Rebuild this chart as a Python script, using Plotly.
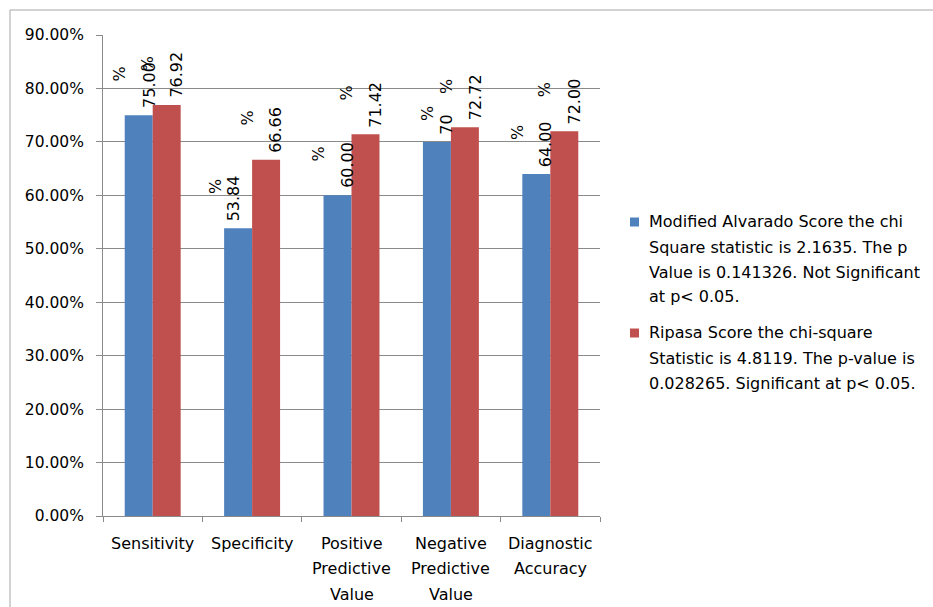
import plotly.graph_objects as go

# Diagnostic performance of the two appendicitis scores (percent)
categories = ["Sensitivity", "Specificity", "Positive Predictive Value",
              "Negative Predictive Value", "Diagnostic Accuracy"]
category_lines = [["Sensitivity"], ["Specificity"], ["Positive", "Predictive", "Value"],
                  ["Negative", "Predictive", "Value"], ["Diagnostic", "Accuracy"]]
alvarado_pct = ["75.00", "53.84", "60.00", "70", "64.00"]
ripasa_pct = ["76.92", "66.66", "71.42", "72.72", "72.00"]

alvarado_legend = ["Modified Alvarado Score the chi", "Square statistic is 2.1635. The p",
                   "Value is 0.141326. Not Significant", "at p&lt; 0.05."]
ripasa_legend = ["Ripasa Score the chi-square", "Statistic is 4.8119. The p-value is",
                 "0.028265. Significant at p&lt; 0.05."]

BLUE = "#4F81BD"
RED = "#C0504D"
GRID = "#8a8a8a"
FONT = "DejaVu Sans"

W, H = 933, 607
M_L, M_R, M_T, M_B = 103, 333, 35, 91
PW, PH = W - M_L - M_R, H - M_T - M_B
BARGAP = 0.437


def paper_x(px):
    return (px - M_L) / PW


def paper_y(py):
    return (H - M_B - py) / PH


fig = go.Figure()
series = [("Modified Alvarado Score", alvarado_pct, BLUE, alvarado_legend),
          ("Ripasa Score", ripasa_pct, RED, ripasa_legend)]
for name, pct, color, _ in series:
    fig.add_trace(go.Bar(
        x=categories, y=[float(s) / 100 for s in pct], name=name,
        marker=dict(color=color, line=dict(width=0)), showlegend=False,
    ))

# rotated value labels: the number sits above its bar, the "%" in a column to its left
cat_px = PW / len(categories)
bar_px = cat_px * (1 - BARGAP) / 2
offsets = [-bar_px / 2, bar_px / 2]
LBL = 16
num_gap, pct_gap = 6, 29


def text_len(s, size):
    return size * sum(0.318 if c == "." else 0.636 for c in s)


label_tweaks = {
    (0, 1): dict(num_dx=-15, pct_gap=17, pct_dy=0),
    (0, 3): dict(num_dx=0, pct_gap=20, pct_dy=13),
}

for si, (_, pct, _, _) in enumerate(series):
    for ci, s in enumerate(pct):
        tw = label_tweaks.get((si, ci), {})
        v = float(s) / 100
        nx = offsets[si] + 10 + tw.get("num_dx", 0)
        fig.add_annotation(
            x=categories[ci], y=v, xref="x", yref="y", text=s, textangle=-90,
            showarrow=False, xanchor="center", yanchor="bottom",
            xshift=nx, yshift=num_gap, borderpad=0,
            font=dict(family=FONT, size=LBL, color="#000000"),
        )
        fig.add_annotation(
            x=categories[ci], y=v, xref="x", yref="y", text="%", textangle=-90,
            showarrow=False, xanchor="center", yanchor="top",
            xshift=nx - tw.get("pct_gap", pct_gap),
            yshift=num_gap + text_len(s, LBL) - 2 + tw.get("pct_dy", 0), borderpad=0,
            font=dict(family=FONT, size=LBL, color="#000000"),
        )

# category names, one line per row with wide line spacing
CAT_FIRST, CAT_STEP = 27, 25.5
for ci, lines in enumerate(category_lines):
    for li, line in enumerate(lines):
        fig.add_annotation(
            x=categories[ci], y=0, xref="x", yref="paper", text=line,
            showarrow=False, xanchor="center", yanchor="middle",
            yshift=-(CAT_FIRST + li * CAT_STEP), borderpad=0,
            font=dict(family=FONT, size=16, color="#000000"),
        )

# legend: colour key squares with their wrapped descriptions
LEG_FONT = 16
LEG_STEP = 25
leg_top = [222, 333]
for (name, _, color, lines), top in zip(series, leg_top):
    fig.add_shape(
        type="rect", xref="paper", yref="paper",
        x0=paper_x(630), x1=paper_x(639), y0=paper_y(top - 4.5), y1=paper_y(top + 4.5),
        line=dict(width=0), fillcolor=color,
    )
    for li, line in enumerate(lines):
        fig.add_annotation(
            x=paper_x(648), y=paper_y(top + li * LEG_STEP), xref="paper", yref="paper",
            text=line, showarrow=False, xanchor="left", yanchor="middle", borderpad=0,
            font=dict(family=FONT, size=LEG_FONT, color="#000000"),
        )

# outer chart-area frame
fig.add_shape(
    type="rect", xref="paper", yref="paper",
    x0=paper_x(10), x1=paper_x(W + 20), y0=paper_y(H + 20), y1=paper_y(10),
    line=dict(color="#a6a6a6", width=1), fillcolor="rgba(0,0,0,0)", layer="below",
)

fig.update_layout(
    width=W, height=H,
    margin=dict(l=M_L, r=M_R, t=M_T, b=M_B, pad=0),
    paper_bgcolor="white", plot_bgcolor="white",
    barmode="group", bargap=BARGAP, bargroupgap=0,
    font=dict(family=FONT, color="#000000"),
    showlegend=False,
    xaxis=dict(
        type="category", categoryorder="array", categoryarray=categories,
        showticklabels=False,
        showline=True, linecolor=GRID, linewidth=1, showgrid=False,
        ticks="outside", tickson="boundaries", ticklen=5, tickcolor=GRID,
        fixedrange=True,
    ),
    yaxis=dict(
        range=[0, 0.9], dtick=0.1, tickformat=".2%",
        showline=True, linecolor=GRID, linewidth=1,
        showgrid=True, gridcolor=GRID, gridwidth=1, zeroline=False,
        ticks="outside", ticklen=6, tickcolor=GRID,
        tickfont=dict(family=FONT, size=15.5, color="#000000"),
        ticklabelstandoff=9, fixedrange=True,
    ),
)

fig.write_html("out.html")
